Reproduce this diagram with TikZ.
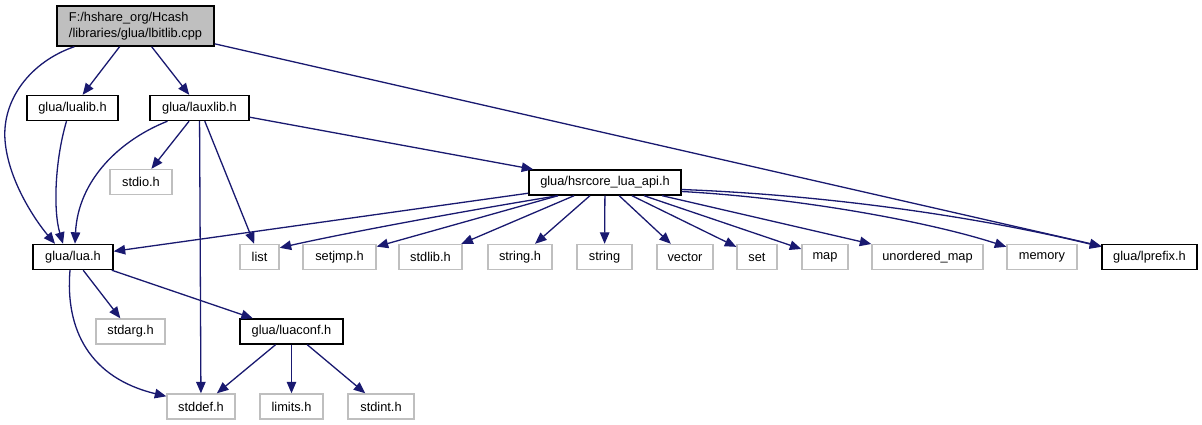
\documentclass[tikz,border=0pt]{standalone}
\usepackage{fontspec}
\setmainfont{Liberation Sans}
\usetikzlibrary{arrows.meta}
\definecolor{edgeblue}{HTML}{191970}
\definecolor{boxgray}{HTML}{BFBFBF}

\begin{document}
\begin{tikzpicture}[x=1pt, y=-1pt, font=\fontsize{12.8}{15.5}\selectfont,
    hdr/.style={draw=black, line width=1.4pt, minimum height=25pt, inner sep=0pt},
    sys/.style={draw=boxgray, line width=1.4pt, minimum height=25pt, inner sep=0pt},
    dep/.style={color=edgeblue, line width=1.3pt, -{Triangle[length=11.5pt,width=9.5pt]}}]
                \useasboundingbox[fill=white] (0,0) rectangle (1202,425);

                \node[hdr, fill=boxgray, minimum width=157pt, minimum height=40pt, align=left] (lbitlib) at (135.5,26) {F:/hshare\_org/Hcash\\/libraries/glua/lbitlib.cpp};
                \node[hdr, minimum width=91pt]  (lualib)  at (72.5,108)   {glua/lualib.h};
                \node[hdr, minimum width=99pt]  (lauxlib) at (199.5,108)  {glua/lauxlib.h};
                \node[sys, minimum width=62pt]  (stdio)   at (141,182)    {stdio.h};
                \node[hdr, minimum width=152pt] (hsrcore) at (605,182.5)  {glua/hsrcore\_lua\_api.h};
                \node[hdr, minimum width=80pt]  (lua)     at (73,257)     {glua/lua.h};
                \node[sys, minimum width=39pt]  (list)    at (259.5,257)  {list};
                \node[sys, minimum width=73pt]  (setjmp)  at (339.5,257)  {setjmp.h};
                \node[sys, minimum width=63pt]  (stdlib)  at (430.5,257)  {stdlib.h};
                \node[sys, minimum width=64pt]  (stringh) at (520,257)    {string.h};
                \node[sys, minimum width=55pt]  (string)  at (604.5,257)  {string};
                \node[sys, minimum width=56pt]  (vector)  at (685,257)    {vector};
                \node[sys, minimum width=40pt]  (set)     at (757,257)    {set};
                \node[sys, minimum width=46pt]  (map)     at (825,257)    {map};
                \node[sys, minimum width=111pt] (umap)    at (927.5,257)  {unordered\_map};
                \node[sys, minimum width=70pt]  (memory)  at (1042,257)   {memory};
                \node[hdr, minimum width=95pt]  (lprefix) at (1149.5,257) {glua/lprefix.h};
                \node[sys, minimum width=69pt]  (stdarg)  at (130.5,331.5) {stdarg.h};
                \node[hdr, minimum width=103pt] (luaconf) at (291.5,331.5) {glua/luaconf.h};
                \node[sys, minimum width=68pt]  (stddef)  at (201,406.5)  {stddef.h};
                \node[sys, minimum width=63pt]  (limits)  at (291.5,406.5) {limits.h};
                \node[sys, minimum width=66pt]  (stdint)  at (381,406.5)  {stdint.h};

                \path[dep] (lbitlib) edge (lualib);
                \path[dep] (lbitlib) edge (lauxlib);
                \path[dep] (lbitlib) edge (lprefix);
                \path[dep] (lauxlib) edge (stdio);
                \path[dep] (lauxlib) edge (stddef);
                \path[dep] (lauxlib) edge (list);
                \path[dep] (lauxlib) edge (hsrcore);
                \path[dep] (hsrcore) edge (lua);
                \path[dep] (hsrcore) edge (setjmp);
                \path[dep] (hsrcore) edge (stdlib);
                \path[dep] (hsrcore) edge (stringh);
                \path[dep] (hsrcore) edge (string);
                \path[dep] (hsrcore) edge (vector);
                \path[dep] (hsrcore) edge (set);
                \path[dep] (hsrcore) edge (map);
                \path[dep] (hsrcore) edge (umap);
                \path[dep] (lua) edge (stdarg);
                \path[dep] (lua) edge (luaconf);
                \path[dep] (luaconf) edge (stddef);
                \path[dep] (luaconf) edge (limits);
                \path[dep] (luaconf) edge (stdint);

                % curved ones
                \draw[dep] ([xshift=18pt]lbitlib.south west) .. controls (30,62) and (2,100) .. (5,140)
                    .. controls (8,180) and (35,220) .. ([xshift=-18pt]lua.north);
                \draw[dep] ([xshift=-6pt]lualib.south) .. controls (55,160) and (53,210) .. ([xshift=-10pt]lua.north);
                \draw[dep] ([xshift=-32pt]lauxlib.south) .. controls (120,140) and (78,180) .. ([xshift=2pt]lua.north);
                \draw[dep] ([xshift=-3pt]lua.south) .. controls (65,330) and (90,378) .. ([yshift=-3pt]stddef.north west);
                \draw[dep] ([xshift=-47pt]hsrcore.south) .. controls (470,210) and (350,232) .. ([yshift=-4pt]list.north east);
                \draw[dep] ([yshift=-9pt]hsrcore.east) .. controls (800,198) and (930,222) .. ([yshift=-3pt]memory.north west);
                \draw[dep] ([yshift=-7pt]hsrcore.east) .. controls (850,196) and (1000,222) .. ([yshift=-3pt]lprefix.north west);
            \end{tikzpicture}
\end{document}
